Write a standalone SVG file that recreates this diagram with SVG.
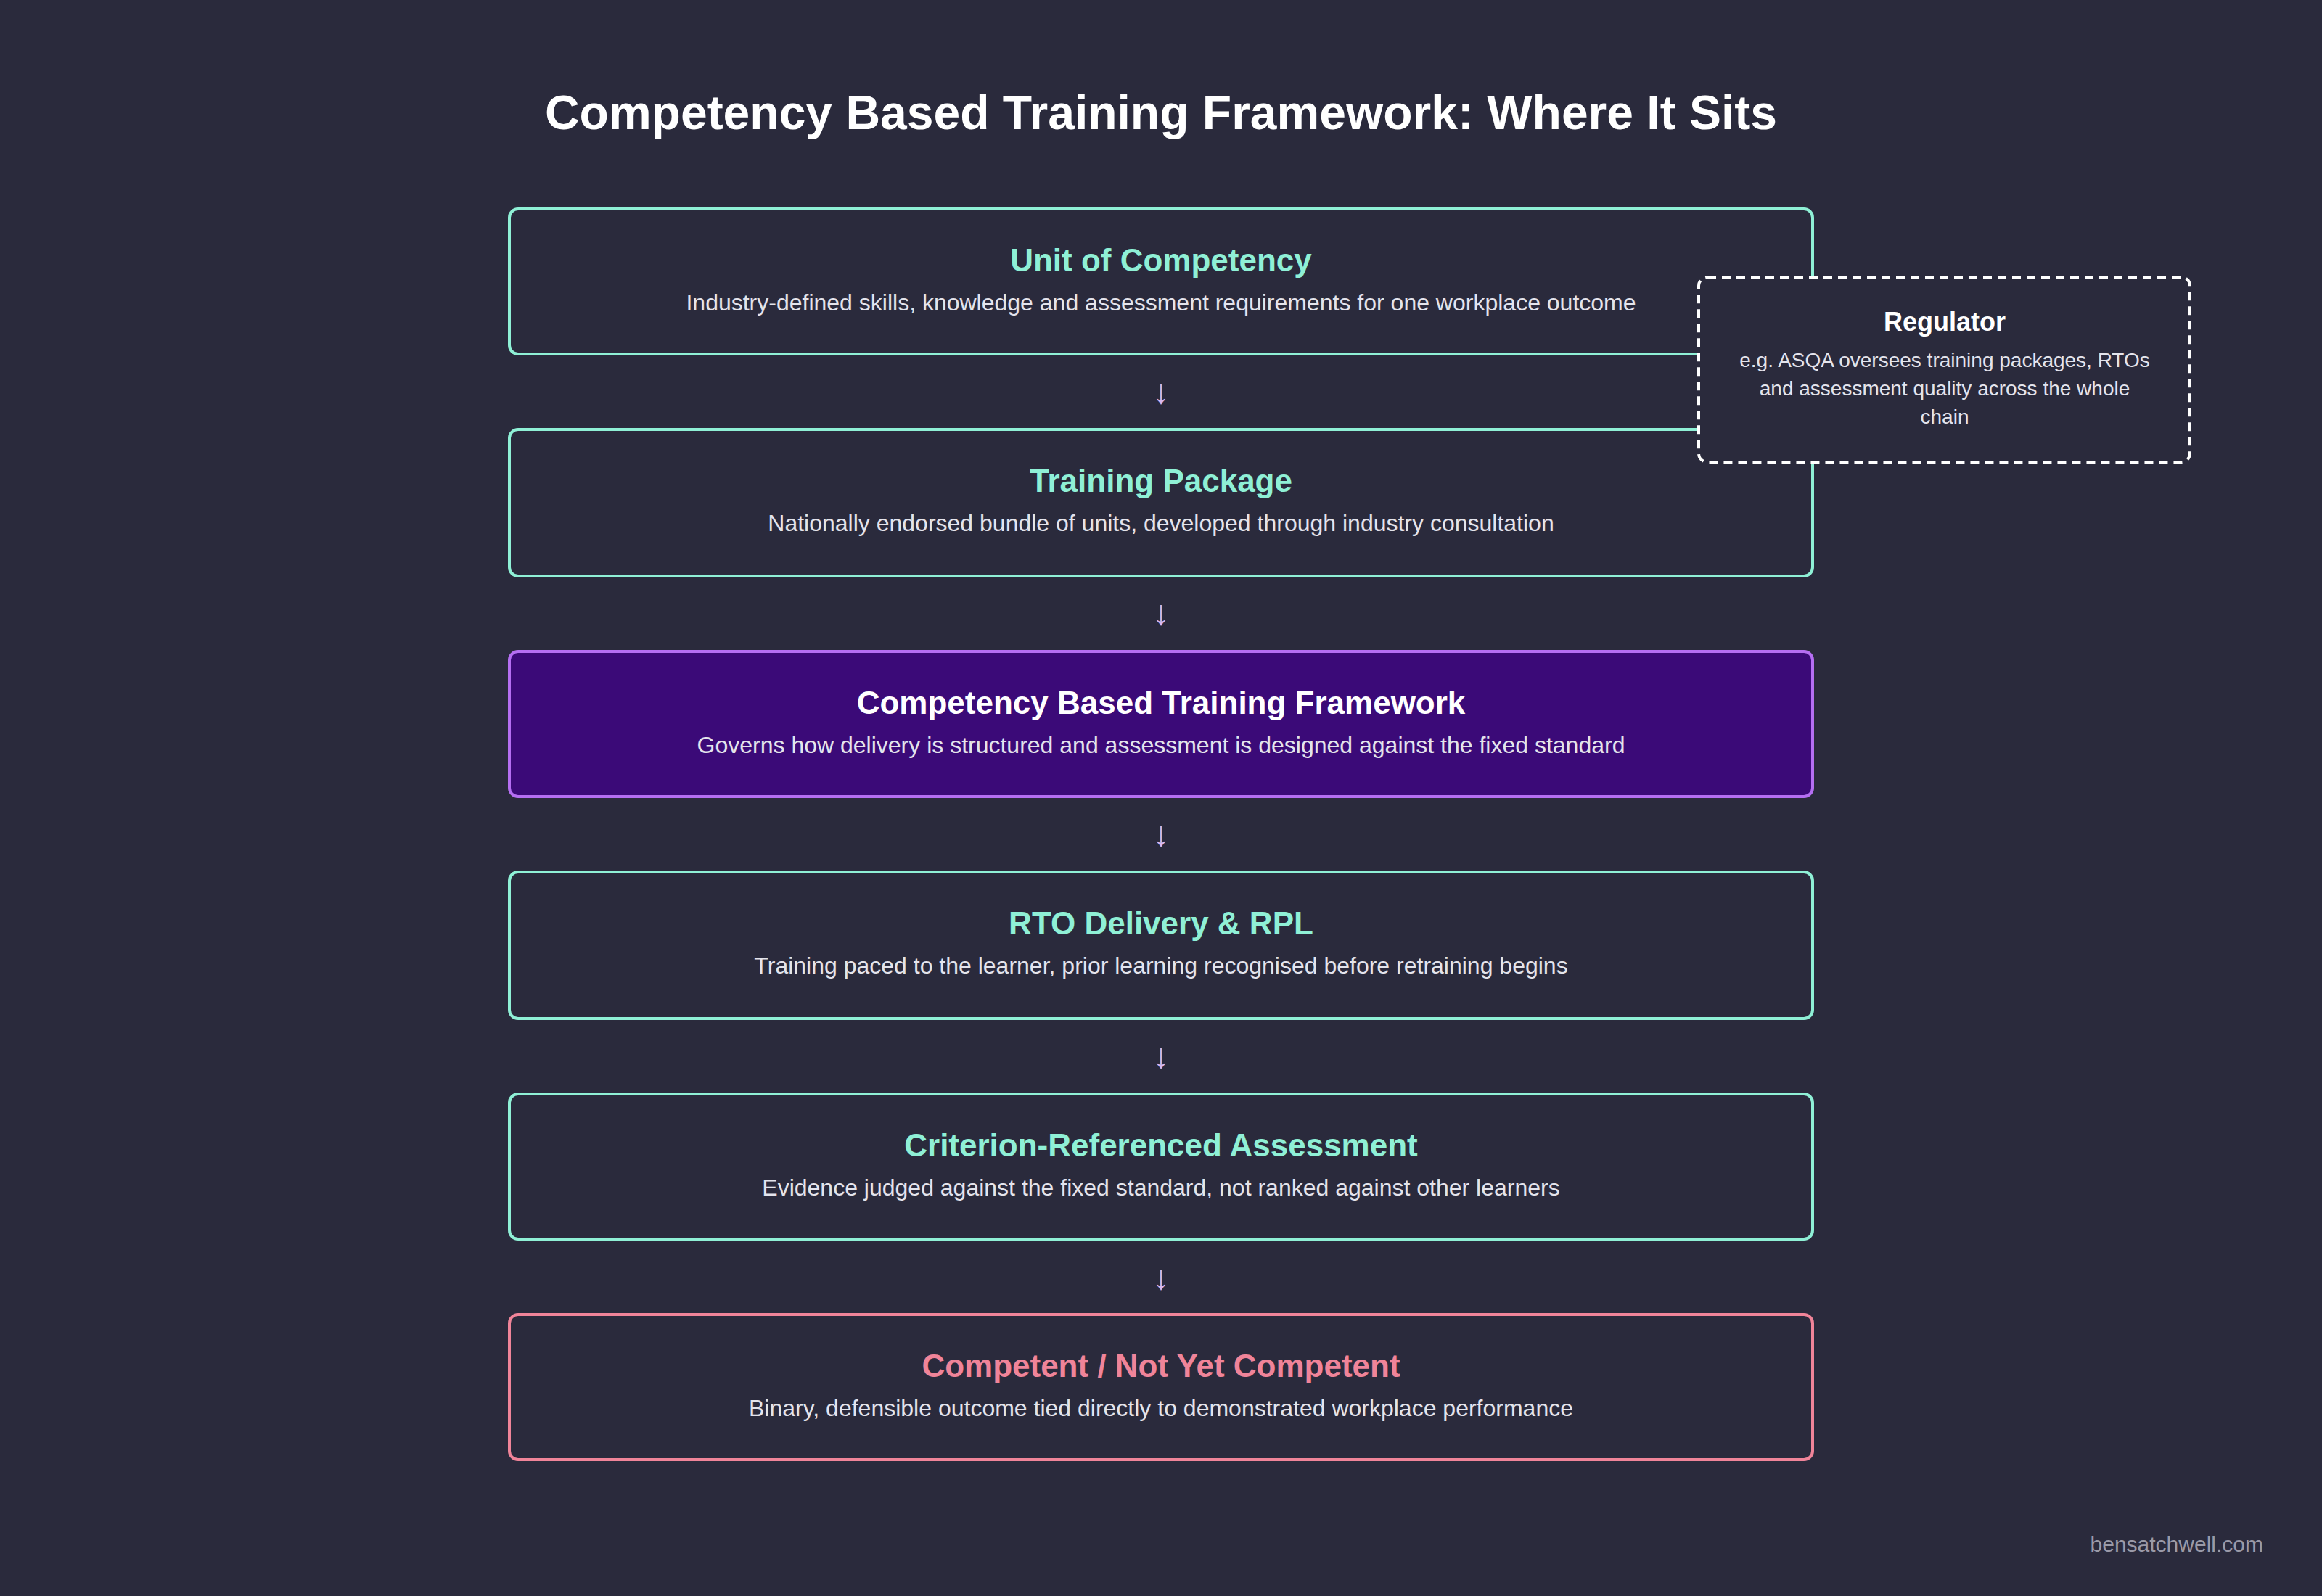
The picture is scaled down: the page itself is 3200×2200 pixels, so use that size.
<svg xmlns="http://www.w3.org/2000/svg" width="3200" height="2200" viewBox="0 0 3200 2200">
<style>
text{font-family:"Liberation Sans",Arial,sans-serif;text-anchor:middle}
.box{fill:#2a2a3c;stroke:#8ff0d6;stroke-width:4}
.t{font-size:44px;font-weight:bold;fill:#8ff0d6}
.d{font-size:32px;fill:#e4e4ec}
.arr{font-size:48px;fill:#d8b8f0}
</style>
<rect width="3200" height="2200" fill="#2a2a3c"/>
<text x="1600" y="178" font-size="66" font-weight="bold" fill="#ffffff">Competency Based Training Framework: Where It Sits</text>
<g id="connectors">
<text class="arr" x="1600" y="556">↓</text>
<text class="arr" x="1600" y="861">↓</text>
<text class="arr" x="1600" y="1166">↓</text>
<text class="arr" x="1600" y="1472">↓</text>
<text class="arr" x="1600" y="1777">↓</text>
</g>
<g id="unit"><rect class="box" x="702" y="288" width="1796" height="200" rx="12"/>
<text class="t" x="1600" y="374">Unit of Competency</text>
<text class="d" x="1600" y="428">Industry-defined skills, knowledge and assessment requirements for one workplace outcome</text></g>
<g id="package"><rect class="box" x="702" y="592" width="1796" height="202" rx="12"/>
<text class="t" x="1600" y="678">Training Package</text>
<text class="d" x="1600" y="732">Nationally endorsed bundle of units, developed through industry consultation</text></g>
<g id="framework"><rect x="702" y="898" width="1796" height="200" rx="12" fill="#3b0a78" stroke="#b56ef2" stroke-width="4"/>
<text class="t" x="1600" y="984" fill="#ffffff" style="fill:#ffffff">Competency Based Training Framework</text>
<text class="d" x="1600" y="1038">Governs how delivery is structured and assessment is designed against the fixed standard</text></g>
<g id="rto"><rect class="box" x="702" y="1202" width="1796" height="202" rx="12"/>
<text class="t" x="1600" y="1288">RTO Delivery &amp; RPL</text>
<text class="d" x="1600" y="1342">Training paced to the learner, prior learning recognised before retraining begins</text></g>
<g id="assessment"><rect class="box" x="702" y="1508" width="1796" height="200" rx="12"/>
<text class="t" x="1600" y="1594">Criterion-Referenced Assessment</text>
<text class="d" x="1600" y="1648">Evidence judged against the fixed standard, not ranked against other learners</text></g>
<g id="outcome"><rect class="box" x="702" y="1812" width="1796" height="200" rx="12" style="stroke:#f08499"/>
<text class="t" x="1600" y="1898" style="fill:#f08499">Competent / Not Yet Competent</text>
<text class="d" x="1600" y="1952">Binary, defensible outcome tied directly to demonstrated workplace performance</text></g>
<g id="regulator"><rect x="2341" y="382" width="677" height="255" rx="12" fill="#2a2a3c" stroke="#ffffff" stroke-width="4" stroke-dasharray="12 8"/>
<text x="2680" y="456" font-size="36" font-weight="bold" fill="#ffffff">Regulator</text>
<text x="2680" y="506" font-size="28" fill="#e4e4ec">e.g. ASQA oversees training packages, RTOs</text>
<text x="2680" y="545" font-size="28" fill="#e4e4ec">and assessment quality across the whole</text>
<text x="2680" y="584" font-size="28" fill="#e4e4ec">chain</text></g>
<text x="3119" y="2139" font-size="30" fill="#9a9aa8" style="text-anchor:end">bensatchwell.com</text>
</svg>
